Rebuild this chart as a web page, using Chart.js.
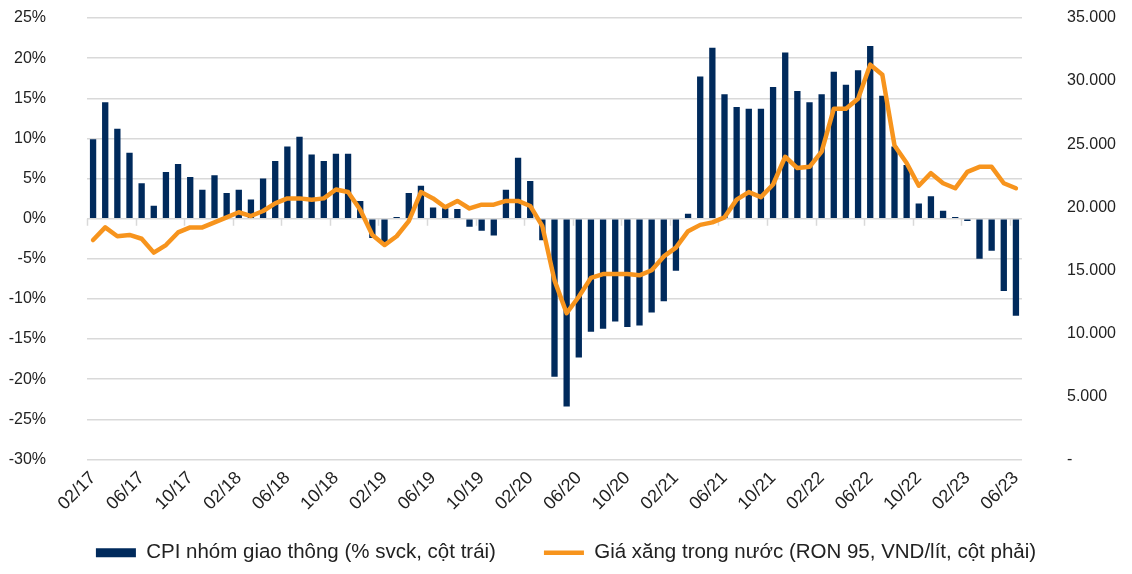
<!DOCTYPE html>
<html>
<head>
<meta charset="utf-8">
<script src="https://cdn.jsdelivr.net/npm/chart.js@4.4.0/dist/chart.umd.min.js"></script>
<style>
  html, body { margin: 0; padding: 0; background: #fff; }
  #wrap { width: 1132px; height: 574px; }
</style>
</head>
<body>
<div id="wrap"><canvas id="chart"></canvas></div>
<script>
// thang/nam tu 02/17 den 06/23
const months = [];
for (let y = 17; y <= 23; y++) {
  for (let m = 1; m <= 12; m++) {
    if ((y === 17 && m < 2) || (y === 23 && m > 6)) continue;
    months.push(String(m).padStart(2, '0') + '/' + y);
  }
}

// CPI nhom giao thong, % svck (cot trai)
const cpiTransport = [
  9.9, 14.5, 11.2, 8.2, 4.4, 1.6, 5.8, 6.8, 5.2, 3.6,
  5.4, 3.2, 3.6, 2.4, 5.0, 7.2, 9.0, 10.2, 8.0, 7.2,
  8.1, 8.1, 2.2, -2.4, -3.0, 0.2, 3.2, 4.1, 1.4, 1.3,
  1.2, -1.0, -1.5, -2.1, 3.6, 7.6, 4.7, -2.7, -19.7, -23.4,
  -17.3, -14.1, -13.7, -12.8, -13.5, -13.3, -11.7, -10.3, -6.5, 0.6,
  17.7, 21.3, 15.5, 13.9, 13.7, 13.7, 16.4, 20.7, 15.9, 14.5,
  15.5, 18.3, 16.7, 18.5, 21.5, 15.3, 9.0, 6.7, 1.9, 2.8,
  1.0, 0.2, -0.3, -5.0, -4.0, -9.0, -12.1
];

// Gia xang RON 95, VND/lit (cot phai)
const gasPrice = [
  17400, 18400, 17700, 17800, 17500, 16400, 17000, 18000, 18400, 18400,
  18800, 19200, 19600, 19300, 19700, 20300, 20700, 20700, 20600, 20700,
  21400, 21200, 19800, 17800, 17000, 17700, 18900, 21200, 20700, 20000,
  20500, 19900, 20200, 20200, 20500, 20500, 20100, 18500, 14200, 11600,
  12900, 14400, 14700, 14700, 14700, 14600, 15000, 16100, 16800, 18100,
  18600, 18800, 19200, 20600, 21200, 20800, 21800, 24000, 23100, 23200,
  24400, 27800, 27800, 28600, 31300, 30500, 24900, 23500, 21700, 22700,
  21900, 21500, 22800, 23200, 23200, 21900, 21500
];

const labelEvery = 4;
const navy = '#002a5c';
const orange = '#f7941d';
const gridColor = '#d9d9d9';
const fontFamily = '"Liberation Sans", Arial, sans-serif';

// vach chia nho tren truc hoanh tai muc 0%
const zeroTicks = {
  id: 'zeroTicks',
  beforeDatasetsDraw(chart) {
    const x = chart.scales.x, y = chart.scales.y;
    const y0 = y.getPixelForValue(0);
    const half = (x.getPixelForValue(1) - x.getPixelForValue(0)) / 2;
    const ctx = chart.ctx;
    ctx.save();
    ctx.strokeStyle = gridColor;
    ctx.lineWidth = 1.5;
    ctx.beginPath();
    for (let i = 0; i < months.length; i += labelEvery) {
      const px = Math.round(x.getPixelForValue(i) - half) + 0.5;
      ctx.moveTo(px, y0);
      ctx.lineTo(px, y0 + 7);
    }
    ctx.stroke();
    ctx.restore();
  }
};

new Chart(document.getElementById('chart'), {
  type: 'bar',
  data: {
    labels: months,
    datasets: [
      {
        type: 'line',
        label: 'Giá xăng trong nước (RON 95, VND/lít, cột phải)',
        data: gasPrice,
        yAxisID: 'y1',
        borderColor: orange,
        backgroundColor: orange,
        borderWidth: 4.5,
        pointRadius: 0,
        tension: 0,
        borderJoinStyle: 'round',
        borderCapStyle: 'round',
        pointStyle: 'line',
        order: 0
      },
      {
        label: 'CPI nhóm giao thông (% svck, cột trái)',
        data: cpiTransport,
        yAxisID: 'y',
        backgroundColor: navy,
        borderWidth: 0,
        barPercentage: 0.52,
        categoryPercentage: 1,
        pointStyle: 'rect',
        order: 1
      }
    ]
  },
  options: {
    responsive: true,
    maintainAspectRatio: false,
    animation: false,
    layout: { padding: { top: 18, bottom: 1 } },
    plugins: {
      tooltip: { enabled: false },
      legend: {
        position: 'bottom',
        reverse: true,
        labels: {
          usePointStyle: true,
          pointStyleWidth: 40,
          boxHeight: 9,
          padding: 48,
          color: '#222',
          font: { family: fontFamily, size: 20.5 }
        }
      }
    },
    scales: {
      // truc hoanh dat o day bieu do (-30%), nhan xoay 45 do
      x: {
        position: { y: -30 },
        grid: { display: false },
        border: { display: false },
        ticks: {
          autoSkip: false,
          maxRotation: 45,
          minRotation: 45,
          padding: 0,
          color: '#222',
          font: { family: fontFamily, size: 18 },
          callback: (v, i) => (i % labelEvery === 0 ? months[i] : '')
        }
      },
      // khoang trong cho nhan truc hoanh
      xGap: {
        type: 'category',
        position: 'bottom',
        afterFit: s => { s.height = 35; },
        grid: { display: false, drawTicks: false },
        border: { display: false },
        ticks: { display: false }
      },
      y: {
        position: 'left',
        min: -30,
        max: 25,
        afterFit: s => { s.width = 87; },
        grid: { color: gridColor, lineWidth: 1.5, tickLength: 41, tickColor: 'transparent' },
        border: { display: false },
        ticks: {
          stepSize: 5,
          padding: 0,
          color: '#222',
          font: { family: fontFamily, size: 16 },
          callback: v => v + '%'
        }
      },
      y1: {
        position: 'right',
        min: 0,
        max: 35000,
        afterFit: s => { s.width = 110; },
        grid: { display: false, drawTicks: true, tickLength: 45 },
        border: { display: false },
        ticks: {
          stepSize: 5000,
          padding: 0,
          color: '#222',
          font: { family: fontFamily, size: 16 },
          callback: v => (v === 0 ? '-' : v.toLocaleString('de-DE'))
        }
      }
    }
  },
  plugins: [zeroTicks]
});
</script>
</body>
</html>
